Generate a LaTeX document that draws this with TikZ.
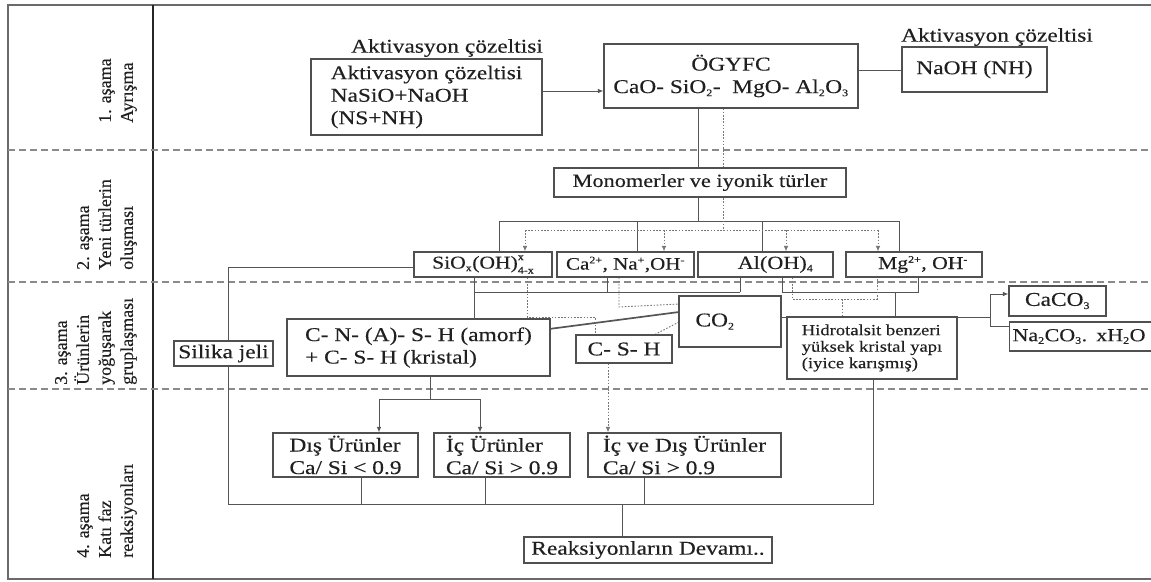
\documentclass[tikz,border=0pt]{standalone}
\usepackage{fontspec}
\setmainfont{Liberation Serif}[FakeStretch=1.2,FakeBold=0.3]
\newfontfamily\labfont{Liberation Serif}[FakeBold=0.3]
\usetikzlibrary{arrows.meta}
\pgfdeclarelayer{bg}
\pgfsetlayers{bg,main}
\definecolor{boxc}{HTML}{505050}
\definecolor{linec}{HTML}{555555}
\definecolor{dotcol}{HTML}{777777}
\definecolor{sepc}{HTML}{8A8A8A}
\definecolor{txtc}{HTML}{202020}
\definecolor{framec}{HTML}{6A6A6A}
\newcommand\smallsz{\fontsize{10}{10}\selectfont}
\newcommand\sbs[1]{$_{\hbox{\smallsz #1}}$}
\newcommand\sps[1]{$^{\hbox{\smallsz #1}}$}
\newcommand\spsb[2]{\rlap{\raisebox{8.5pt}{\smallsz #1}}\raisebox{-5pt}{\smallsz #2}}
\begin{document}
\begin{tikzpicture}[x=1pt,y=-1pt,
  box/.style={draw=boxc, line width=1.1pt, fill=white, inner sep=0pt, align=center, text=txtc, font=\fontsize{19.5}{22.5}\selectfont},
  lab/.style={inner sep=0pt, text=txtc, font=\fontsize{19.5}{22.5}\selectfont},
  conn/.style={draw=linec, line width=1pt},
  thickconn/.style={draw=linec, line width=1.7pt},
  dotl/.style={draw=dotcol, line width=0.9pt, dash pattern=on 1.6pt off 1.6pt},
  sep/.style={draw=sepc, line width=1.2pt, dash pattern=on 7pt off 4pt},
  arr/.style={-{Latex[length=5.5pt,width=4.5pt]}},
  stagelab/.style={rotate=90, anchor=south west, align=left, inner sep=0pt, font=\labfont\fontsize{18}{22}\selectfont, text=txtc}
]
\useasboundingbox (0,0) rectangle (1151,581);

% ---------- stage labels ----------
\node[stagelab] (st1) at (137,123) {1. aşama\\Ayrışma};
\node[stagelab] (st2) at (137,270) {2. aşama\\Yeni türlerin\\oluşması};
\node[stagelab] (st3) at (137,385) {3. aşama\\Ürünlerin\\yoğuşarak\\gruplaşması};
\node[stagelab] (st4) at (137,558) {4. aşama\\Katı faz\\reaksiyonları};

% ---------- stage 1 ----------
\node[lab] (actlab) at (447,48) {Aktivasyon çözeltisi};
\node[box, align=left, minimum width=231pt, minimum height=76pt] (act) at (426.5,97) {Aktivasyon çözeltisi\\NaSiO+NaOH\\(NS+NH)};
\node[box, minimum width=254pt, minimum height=64pt] (ogy) at (731,76) {ÖGYFC\\CaO- SiO\sbs{2}-\ \ MgO- Al\sbs{2}O\sbs{3}};
\node[lab] (nahlab) at (997,37) {Aktivasyon çözeltisi};
\node[box, minimum width=145pt, minimum height=45pt] (nah) at (974.5,69.5) {NaOH (NH)};

% ---------- stage 2 ----------
\node[box, minimum width=292pt, minimum height=29pt, font=\fontsize{18.6}{21}\selectfont] (mono) at (700,182.5) {Monomerler ve iyonik türler};
\node[box, minimum width=138pt, minimum height=25pt, font=\fontsize{18}{21}\selectfont] (sio) at (483,264.5) {SiO\sbs{x}(OH)\spsb{x}{4-x}};
\node[box, minimum width=137pt, minimum height=25pt, font=\fontsize{17.5}{21}\selectfont] (ca) at (625.5,264.5) {Ca\sps{2+}, Na\sps{+},OH\sps{-}};
\node[box, minimum width=135pt, minimum height=25pt, font=\fontsize{18.5}{21}\selectfont] (al) at (765.5,264.5) {\hspace*{20pt}Al(OH)\sbs{4}};
\node[box, minimum width=136pt, minimum height=25pt, font=\fontsize{18}{21}\selectfont] (mg) at (914,264.5) {\hspace*{18pt}Mg\sps{2+}, OH\sps{-}};

% ---------- stage 3 ----------
\node[box, minimum width=99pt, minimum height=25pt] (silika) at (223.5,353.5) {Silika jeli};
\node[box, align=left, minimum width=263pt, minimum height=57pt] (cnash) at (418.5,347.5) {C- N- (A)- S- H (amorf)\\+ C- S- H (kristal)};
\node[box, minimum width=96pt, minimum height=28pt] (csh) at (624,349) {C- S- H};
\node[box, minimum width=102pt, minimum height=51pt] (co2) at (730,321.5) {CO\sbs{2}\hspace*{30pt}};
\node[box, align=left, minimum width=170pt, minimum height=62pt, font=\fontsize{15.5}{16.5}\selectfont] (hidro) at (872,348) {Hidrotalsit benzeri\\yüksek kristal yapı\\(iyice karışmış)};
\node[box, minimum width=97pt, minimum height=30pt] (caco) at (1057.5,301) {CaCO\sbs{3}};
\node[box, anchor=west, align=left, text width=144pt, inner xsep=3pt, minimum height=29pt, font=\fontsize{18.3}{21}\selectfont] (naco) at (1009,336.5) {Na\sbs{2}CO\sbs{3}. xH\sbs{2}O};

% ---------- stage 4 ----------
\node[box, align=left, minimum width=145pt, minimum height=44pt] (dis) at (345.5,455) {Dış Ürünler\\Ca/ Si < 0.9};
\node[box, align=left, minimum width=136pt, minimum height=44pt] (ic) at (502,455) {İç Ürünler\\Ca/ Si > 0.9};
\node[box, align=left, minimum width=193pt, minimum height=44pt] (icdis) at (684.5,455) {İç ve Dış Ürünler\\Ca/ Si > 0.9};
\node[box, minimum width=248pt, minimum height=26pt] (reak) at (648,550) {Reaksiyonların Devamı..};

% ---------- helper coordinates ----------
\coordinate (a91) at (570,91);
\coordinate (on70) at (880,70);
\coordinate (b1L) at (499,221);
\coordinate (b1M) at (698,221);
\coordinate (b1a) at (637,221);
\coordinate (b1b) at (762,221);
\coordinate (b1R) at (899,221);
\coordinate (d1L) at (525,230);
\coordinate (d1M) at (723,230);
\coordinate (d1a) at (664,230);
\coordinate (d1b) at (786,230);
\coordinate (d1R) at (878,230);
\coordinate (b2L) at (474,292);
\coordinate (b2a) at (607,292);
\coordinate (b2R) at (740,292);
\coordinate (l1L) at (782,292);
\coordinate (l1M) at (895,292);
\coordinate (l1R) at (918,292);
\coordinate (l2L) at (792,299);
\coordinate (l2M) at (842,299);
\coordinate (l2R) at (877,299);
\coordinate (s1) at (228,267);
\coordinate (s2) at (228,504);
\coordinate (bb) at (873,504);
\coordinate (b3a) at (361,504);
\coordinate (b3b) at (485,504);
\coordinate (b3c) at (644,504);
\coordinate (b3d) at (622,504);
\coordinate (cn1) at (430,399);
\coordinate (cnL) at (379,399);
\coordinate (cnR) at (480,399);
\coordinate (h1) at (990,317);
\coordinate (brT) at (990,294);
\coordinate (brB) at (990,326);
\coordinate (ds1) at (527,317);
\coordinate (ds2) at (595,317);
\coordinate (dc1) at (619,307);
\coordinate (dc2) at (679,304);
\coordinate (csht) at (652,336);
\coordinate (co2l) at (679,322);
\coordinate (cnr) at (549,329);
\coordinate (co2t) at (679,312);
\coordinate (x608) at (608,0);

\begin{pgfonlayer}{bg}
\fill[white] (0,0) rectangle (1151,581);
% frame
\draw[framec, line width=1.2pt] (1151,5) -- (8,5) -- (8,579) -- (1151,579);
\draw[black!85, line width=2pt] (153,5) -- (153,579);
\foreach \yy in {150,282,389} \draw[sep] (8,\yy) -- (1151,\yy);

% stage 1
\draw[conn, arr] (act.east |- a91) -- (ogy.west |- a91);
\draw[conn] (ogy.east |- on70) -- (nah.west |- on70);

% ÖGYFC -> monomers -> species (solid)
\draw[conn] (ogy.south -| b1M) -- (mono.north -| b1M);
\draw[conn] (mono.south -| b1M) -- (b1M);
\draw[conn] (sio.north -| b1L) -- (b1L) -- (b1R) -- (mg.north -| b1R);
\draw[conn] (ca.north -| b1a) -- (b1a);
\draw[conn] (al.north -| b1b) -- (b1b);

% dotted distribution
\draw[dotl] (ogy.south -| d1M) -- (d1M);
\draw[dotl] (d1L) -- (d1R);
\draw[dotl, arr] (d1L) -- (sio.north -| d1L);
\draw[dotl, arr] (d1a) -- (ca.north -| d1a);
\draw[dotl, arr] (d1b) -- (al.north -| d1b);
\draw[dotl, arr] (d1R) -- (mg.north -| d1R);

% SiO -> silika jeli and bottom collector
\draw[conn] (sio.west |- s1) -- (s1) -- (s2) -- (bb) -- (hidro.south -| bb);

% species -> C-N-A-S-H
\draw[conn] (sio.south -| b2L) -- (cnash.north -| b2L);
\draw[conn] (b2L) -- (b2R);
\draw[conn] (ca.south -| b2a) -- (b2a);
\draw[conn] (al.south -| b2R) -- (b2R);

% Al/Mg -> hidrotalsit
\draw[conn] (al.south -| l1L) -- (l1L) -- (l1R) -- (mg.south -| l1R);
\draw[conn] (l1M) -- (hidro.north -| l1M);
\draw[dotl] (al.south -| l2L) -- (l2L) -- (l2R) -- (mg.south -| l2R);
\draw[dotl] (l2M) -- (hidro.north -| l2M);

% CO2 connections
\draw[conn] (co2.east |- h1) -- (h1);
\draw[conn, arr] (h1) -- (brT) -- (caco.west |- brT);
\draw[conn] (h1) -- (brB) -- (naco.west |- brB);
\draw[thickconn] (cnr) -- (co2t);
\draw[dotl] (ca.south -| dc1) -- (dc1) -- (dc2);
\draw[dotl] (sio.south -| ds1) -- (ds1) -- (ds2) -- (csh.north -| ds2);
\draw[dotl] (csht) -- (co2l);

% stage 3 -> stage 4
\draw[conn] (cnash.south -| cn1) -- (cn1);
\draw[conn, arr] (cn1) -- (cnL) -- (dis.north -| cnL);
\draw[conn, arr] (cn1) -- (cnR) -- (ic.north -| cnR);
\draw[dotl, arr] (csh.south -| x608) -- (icdis.north -| x608);

% stage 4 collector
\draw[conn] (dis.south -| b3a) -- (b3a);
\draw[conn] (ic.south -| b3b) -- (b3b);
\draw[conn] (icdis.south -| b3c) -- (b3c);
\draw[conn] (b3d) -- (reak.north -| b3d);
\end{pgfonlayer}
\end{tikzpicture}
\end{document}
